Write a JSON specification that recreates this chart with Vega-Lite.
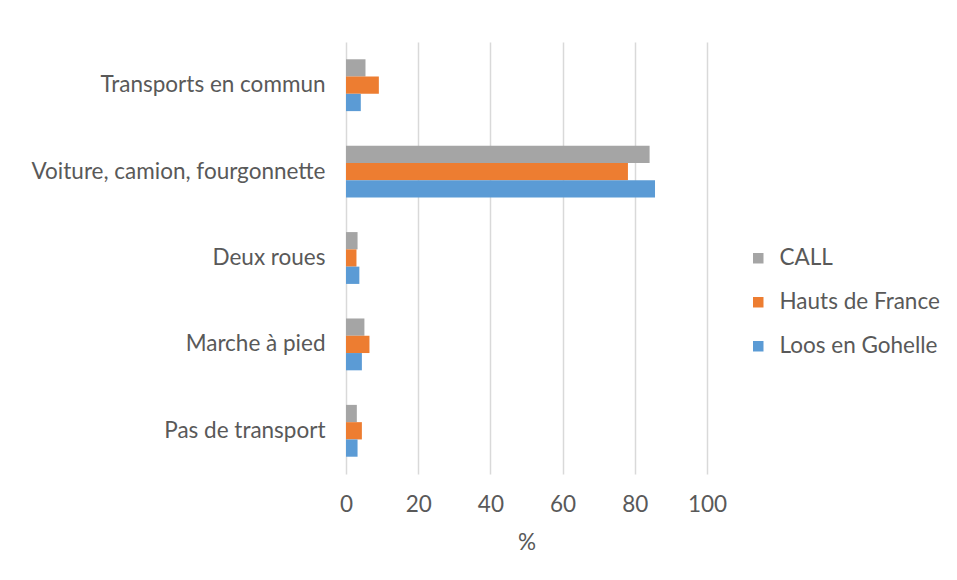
{
  "$schema": "https://vega.github.io/schema/vega-lite/v6.json",
  "autosize": {"type": "none"},
  "padding": {"left": 346, "top": 42, "right": 250, "bottom": 106},
  "width": 361,
  "height": 432,
  "background": "white",
  "data": {"values": [
    {"mode": "Transports en commun", "zone": "CALL", "value": 5.4},
    {"mode": "Transports en commun", "zone": "Hauts de France", "value": 9.1},
    {"mode": "Transports en commun", "zone": "Loos en Gohelle", "value": 4.1},
    {"mode": "Voiture, camion, fourgonnette", "zone": "CALL", "value": 84.1},
    {"mode": "Voiture, camion, fourgonnette", "zone": "Hauts de France", "value": 78.1},
    {"mode": "Voiture, camion, fourgonnette", "zone": "Loos en Gohelle", "value": 85.6},
    {"mode": "Deux roues", "zone": "CALL", "value": 3.2},
    {"mode": "Deux roues", "zone": "Hauts de France", "value": 2.9},
    {"mode": "Deux roues", "zone": "Loos en Gohelle", "value": 3.7},
    {"mode": "Marche à pied", "zone": "CALL", "value": 5.1},
    {"mode": "Marche à pied", "zone": "Hauts de France", "value": 6.5},
    {"mode": "Marche à pied", "zone": "Loos en Gohelle", "value": 4.4},
    {"mode": "Pas de transport", "zone": "CALL", "value": 3.0},
    {"mode": "Pas de transport", "zone": "Hauts de France", "value": 4.4},
    {"mode": "Pas de transport", "zone": "Loos en Gohelle", "value": 3.2}
  ]},
  "mark": {"type": "bar"},
  "encoding": {
    "y": {
      "field": "mode", "type": "nominal",
      "sort": ["Transports en commun", "Voiture, camion, fourgonnette", "Deux roues", "Marche à pied", "Pas de transport"],
      "scale": {"paddingInner": 0.4, "paddingOuter": 0.2},
      "axis": {"title": null, "domain": false, "ticks": false, "labelPadding": 21, "labelFontSize": 22.5, "labelFont": "Lato", "labelColor": "#595959", "labelLimit": 400}
    },
    "yOffset": {"field": "zone", "type": "nominal", "sort": ["CALL", "Hauts de France", "Loos en Gohelle"]},
    "x": {
      "field": "value", "type": "quantitative",
      "scale": {"domain": [0, 100]},
      "axis": {"title": "%", "values": [0, 20, 40, 60, 80, 100], "domain": false, "ticks": false, "grid": true, "gridColor": "#d9d9d9", "gridWidth": 1.5, "labelFlush": false, "labelPadding": 19, "labelFontSize": 22.5, "labelFont": "Lato", "labelColor": "#595959", "titleFontSize": 22.5, "titleFont": "Lato", "titleFontWeight": "normal", "titleColor": "#595959", "titlePadding": 16}
    },
    "color": {
      "field": "zone", "type": "nominal",
      "sort": ["CALL", "Hauts de France", "Loos en Gohelle"],
      "scale": {"domain": ["CALL", "Hauts de France", "Loos en Gohelle"], "range": ["#a5a5a5", "#ed7d31", "#5b9bd5"]},
      "legend": {"title": null, "orient": "none", "legendX": 401, "legendY": 205, "symbolType": "square", "symbolSize": 110, "symbolStrokeWidth": 0, "labelFontSize": 22.5, "labelFont": "Lato", "labelColor": "#595959", "labelLimit": 300, "rowPadding": 21, "labelOffset": 10}
    }
  },
  "config": {"view": {"stroke": null}}
}
